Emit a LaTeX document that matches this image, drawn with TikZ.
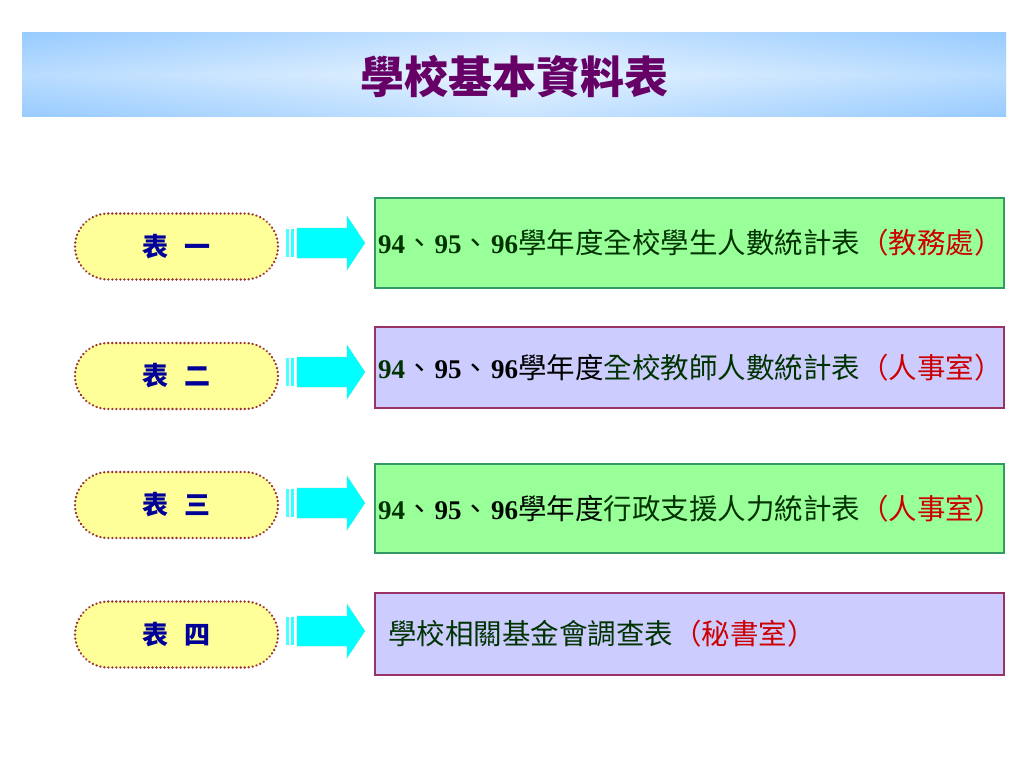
\documentclass[tikz,border=0pt]{standalone}
\usepackage{fontspec}
\setmainfont{Liberation Serif}
\newfontfamily\cjk{Noto Sans CJK TC}
\usetikzlibrary{shapes.misc}
\definecolor{titlepurple}{HTML}{660066}
\definecolor{barblue}{HTML}{99CCFF}
\definecolor{barlight}{HTML}{E8F4FF}
\definecolor{ovalfill}{HTML}{FFFF99}
\definecolor{ovalline}{HTML}{993333}
\definecolor{ovaltext}{HTML}{000099}
\definecolor{greenfill}{HTML}{99FF99}
\definecolor{greenline}{HTML}{339966}
\definecolor{lavfill}{HTML}{CCCCFF}
\definecolor{lavline}{HTML}{993366}
\definecolor{darkgreen}{HTML}{003300}
\definecolor{offred}{HTML}{CC0000}
\definecolor{arrowcyan}{HTML}{00FFFF}
\definecolor{arrowedge}{HTML}{66E0CC}
\newcommand\numtxt[1]{{\rmfamily\bfseries\fontsize{27}{30}\selectfont #1}}
\newcommand\dunhao{、\hspace{1pt}}
\newcommand\blockarrowat[1]{%
  \fill[arrowcyan!70!white] (286,#1-14) rectangle (289,#1+14);
  \fill[arrowcyan!80!white] (291,#1-14) rectangle (294,#1+14);
  \filldraw[fill=arrowcyan,draw=arrowedge,densely dotted,line width=0.6]
    (297,#1-15) -- (347,#1-15) -- (347,#1-27) -- (365,#1) -- (347,#1+27)
    -- (347,#1+15) -- (297,#1+15) -- cycle;}
\tikzset{
  ovalbox/.style={rounded rectangle, draw=ovalline, fill=ovalfill, line width=2.6,
    dash pattern=on 0.01pt off 4pt, line cap=round, minimum width=203, minimum height=66, inner sep=0,
    font=\cjk\bfseries\fontsize{26}{30}\selectfont, text=ovaltext},
  greenbox/.style={draw=greenline, fill=greenfill, line width=2},
  lavbox/.style={draw=lavline, fill=lavfill, line width=2},
  rowtext/.style={anchor=west, inner sep=0, text=darkgreen,
    font=\cjk\fontsize{28.5}{32}\selectfont},
}
\newcommand\ovalgap{\hspace{17pt}}
\begin{document}
\begin{tikzpicture}[x=1pt,y=-1pt]
\useasboundingbox (0,0) rectangle (1024,768);
\fill[white] (0,0) rectangle (1024,768);
% title bar
\shade[left color=barblue, right color=barblue, middle color=barlight] (22,33) rectangle (1006,116);
\shade[top color=barblue, bottom color=barblue, middle color=barlight, opacity=0.4] (22,33) rectangle (1006,116);
\node[text=titlepurple, font=\cjk\bfseries\fontsize{44}{48}\selectfont] (title) at (514,77) {學校基本資料表};
% ovals
\node[ovalbox] (o1) at (176.5,246.5) {表\ovalgap 一};
\node[ovalbox] (o2) at (176.5,376) {表\ovalgap 二};
\node[ovalbox] (o3) at (176.5,505) {表\ovalgap 三};
\node[ovalbox] (o4) at (176.5,634.5) {表\ovalgap 四};
% arrows
\blockarrowat{243}
\blockarrowat{372}
\blockarrowat{503}
\blockarrowat{631}
% boxes
\draw[greenbox] (375,198) rectangle (1004,288);
\coordinate (r1) at (378,243);
\draw[lavbox] (375,327) rectangle (1004,408);
\coordinate (r2) at (378,367.5);
\draw[greenbox] (375,464) rectangle (1004,553);
\coordinate (r3) at (378,508.5);
\draw[lavbox] (375,593) rectangle (1004,675);
\coordinate (r4) at (388,634);
\node[rowtext] (t1) at (r1) {\numtxt{94}\dunhao\numtxt{95}\dunhao\numtxt{96}學年度全校學生人數統計表\textcolor{offred}{（教務處）}};
\node[rowtext] (t2) at (r2) {\numtxt{94}\textcolor{black}{\dunhao\numtxt{95}\dunhao\numtxt{96}學年度}全校教師人數統計表\textcolor{offred}{（人事室）}};
\node[rowtext] (t3) at (r3) {\numtxt{94}\textcolor{black!85!darkgreen}{\dunhao\numtxt{95}\dunhao\numtxt{96}學年度}行政支援人力統計表\textcolor{offred}{（人事室）}};
\node[rowtext] (t4) at (r4) {學校相關基金會調查表\textcolor{offred}{（秘書室）}};
\end{tikzpicture}
\end{document}
